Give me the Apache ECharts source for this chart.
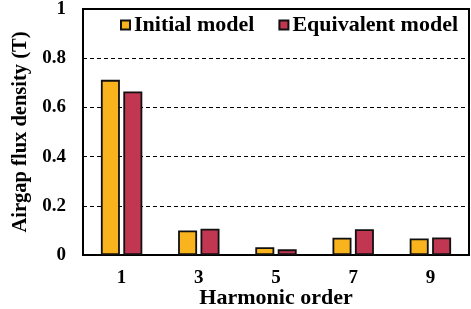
<!DOCTYPE html>
<html><head><meta charset="utf-8">
<script src="https://cdn.jsdelivr.net/npm/echarts@6/dist/echarts.min.js"></script>
<style>html,body{margin:0;padding:0;background:#fff}#c{width:471px;height:309px}</style>
</head><body><div id="c"></div>
<script>
const categories = ['1','3','5','7','9'];
const initialModel = [0.712, 0.100, 0.032, 0.070, 0.067];
const equivalentModel = [0.665, 0.107, 0.023, 0.105, 0.071];
const yTicks = [0, 0.2, 0.4, 0.6, 0.8, 1];

const font = '"Liberation Serif", "Times New Roman", serif';
const chart = echarts.init(document.getElementById('c'));
chart.setOption({
  animation: false,
  grid: {left: 83, right: 2, top: 9, bottom: 54, show: true, borderColor: '#000', borderWidth: 2,
         backgroundColor: 'transparent', outerBoundsMode: 'none', containLabel: false},
  legend: {
    top: 14, left: 120, padding: 0, itemWidth: 9, itemHeight: 9, itemGap: 24,
    textStyle: {fontFamily: font, fontWeight: 'bold', fontSize: 22, color: '#000', padding: [0,0,0,-1]},
    data: [{name: 'Initial model', icon: 'rect'}, {name: 'Equivalent model', icon: 'rect'}]
  },
  xAxis: {
    type: 'category', data: categories,
    axisLine: {lineStyle: {color: '#000', width: 2}},
    axisTick: {show: false},
    axisLabel: {fontFamily: font, fontWeight: 'bold', fontSize: 19, color: '#000', margin: 14},
    name: 'Harmonic order', nameLocation: 'middle', nameGap: 32, nameMoveOverlap: false,
    nameTextStyle: {fontFamily: font, fontWeight: 'bold', fontSize: 22, color: '#000'}
  },
  yAxis: {
    type: 'value', min: 0, max: 1, interval: 0.2,
    axisLine: {show: true, lineStyle: {color: '#000', width: 2}},
    axisTick: {show: false},
    axisLabel: {fontFamily: font, fontWeight: 'bold', fontSize: 19, color: '#000', margin: 17,
      formatter: v => { const t = yTicks.find(x => Math.abs(x - v) < 1e-9); return t === undefined ? '' : String(t); }},
    splitLine: {show: true, lineStyle: {color: '#000', type: [4, 3], width: 1}},
    name: 'Airgap flux density (T)', nameLocation: 'middle', nameGap: 52, nameMoveOverlap: false,
    nameTextStyle: {fontFamily: font, fontWeight: 'bold', fontSize: 20.5, color: '#000'}
  },
  series: [
    {name: 'Initial model', type: 'bar', data: initialModel, barWidth: 19, barGap: '18%',
     itemStyle: {color: '#F9B31D', borderColor: '#111', borderWidth: 1.8}},
    {name: 'Equivalent model', type: 'bar', data: equivalentModel, barWidth: 19,
     itemStyle: {color: '#C13651', borderColor: '#111', borderWidth: 1.8}}
  ]
});
</script></body></html>
